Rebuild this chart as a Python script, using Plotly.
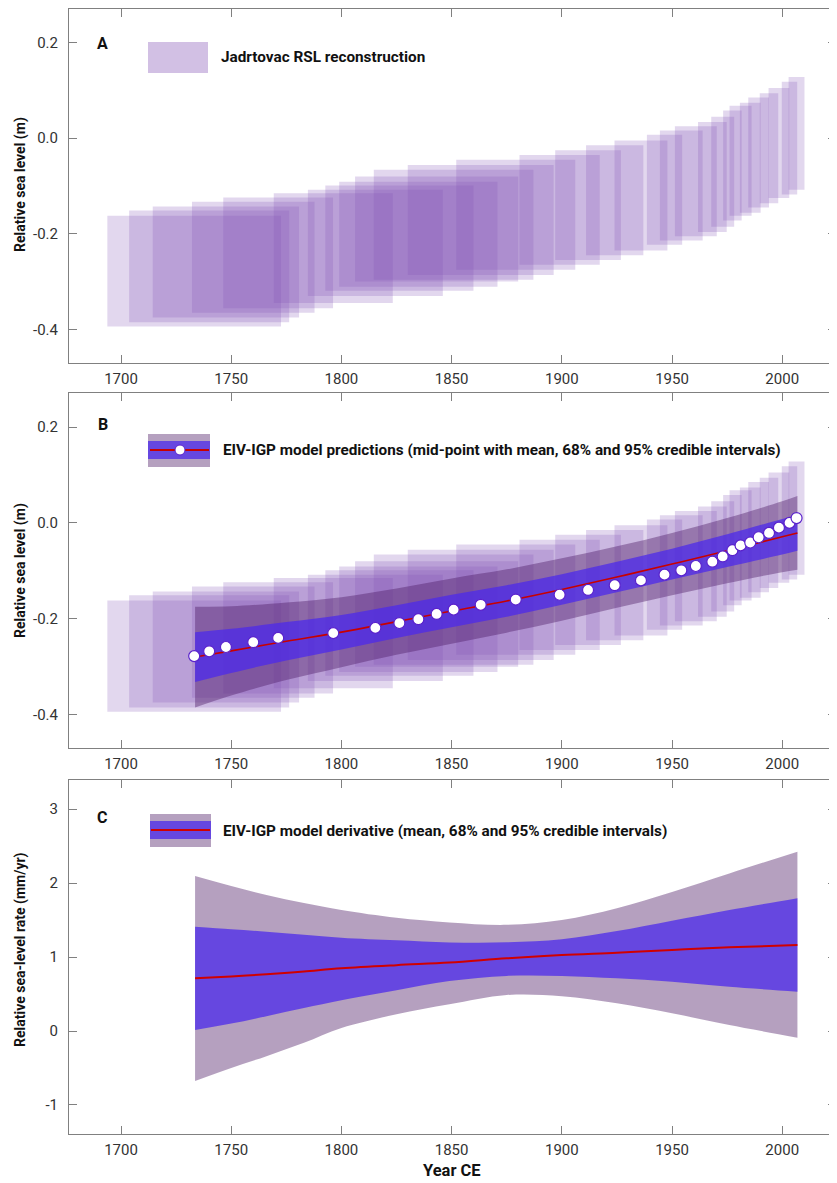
import plotly.graph_objects as go

# ---------------- data ----------------
# RSL reconstruction (mid-points, age and RSL half-uncertainties)
ages = [1733.2, 1740.0, 1747.6, 1760.0, 1771.3, 1796.3, 1815.4, 1826.3, 1834.9, 1843.2,
        1850.9, 1863.2, 1879.1, 1899.0, 1911.9, 1924.0, 1935.9, 1946.6, 1954.2, 1960.8,
        1968.3, 1973.0, 1977.4, 1981.1, 1985.5, 1989.3, 1994.0, 1998.5, 2003.3, 2006.5]
age_err = [39.4, 36.3, 33.2, 27.8, 24.9, 27.0, 30.6, 33.6, 35.9, 37.0,
           36.2, 33.1, 27.0, 18.2, 14.9, 13.0, 12.0, 8.0, 9.7, 9.5,
           6.5, 5.2, 4.2, 5.0, 4.7, 4.7, 4.2, 4.7, 3.5, 3.6]
rsl = [-0.278, -0.268, -0.259, -0.249, -0.240, -0.230, -0.219, -0.209, -0.201, -0.190,
       -0.181, -0.171, -0.160, -0.150, -0.140, -0.130, -0.120, -0.108, -0.099, -0.090,
       -0.081, -0.070, -0.057, -0.047, -0.041, -0.030, -0.021, -0.010, 0.000, 0.010]
rsl_err = [0.116, 0.117, 0.116, 0.116, 0.116, 0.115, 0.111, 0.110, 0.110, 0.110,
           0.115, 0.115, 0.115, 0.115, 0.115, 0.115, 0.115, 0.115, 0.115, 0.115,
           0.115, 0.115, 0.115, 0.115, 0.115, 0.115, 0.115, 0.115, 0.118, 0.118]

# EIV-IGP model predictions (panel B)
pred_years = [1733.6, 1750, 1775, 1800, 1825, 1850, 1875, 1900, 1925, 1950, 1975, 2000, 2006.9]
pred_mean = [-0.280, -0.267, -0.247, -0.228, -0.206, -0.184, -0.163, -0.139, -0.113, -0.086, -0.058, -0.029, -0.021]
pred_lo68 = [-0.332, -0.313, -0.287, -0.264, -0.240, -0.218, -0.196, -0.171, -0.145, -0.118, -0.092, -0.066, -0.058]
pred_hi68 = [-0.228, -0.221, -0.207, -0.192, -0.172, -0.150, -0.130, -0.107, -0.081, -0.054, -0.024, 0.008, 0.016]
pred_lo95 = [-0.385, -0.360, -0.328, -0.301, -0.275, -0.252, -0.229, -0.204, -0.177, -0.151, -0.126, -0.103, -0.098]
pred_hi95 = [-0.175, -0.174, -0.166, -0.155, -0.137, -0.116, -0.097, -0.074, -0.049, -0.021, 0.010, 0.045, 0.056]

# EIV-IGP model derivative (panel C)
rate_years = [1733.6, 1750, 1766, 1783, 1800, 1825, 1849, 1875, 1900, 1925, 1950, 1976, 2006.9]
rate_mean = [0.712, 0.738, 0.766, 0.805, 0.847, 0.890, 0.925, 0.982, 1.027, 1.058, 1.095, 1.131, 1.162]
rate_hi68 = [1.410, 1.375, 1.342, 1.300, 1.261, 1.225, 1.197, 1.198, 1.240, 1.350, 1.490, 1.635, 1.795]
rate_lo68 = [0.013, 0.100, 0.200, 0.310, 0.415, 0.550, 0.675, 0.745, 0.745, 0.712, 0.666, 0.599, 0.531]
rate_hi95 = [2.095, 1.960, 1.838, 1.730, 1.635, 1.530, 1.468, 1.435, 1.500, 1.660, 1.880, 2.130, 2.423]
rate_lo95 = [-0.676, -0.500, -0.340, -0.160, 0.040, 0.225, 0.360, 0.486, 0.470, 0.374, 0.239, 0.081, -0.090]

x_ticks = [1700, 1750, 1800, 1850, 1900, 1950, 2000]
rsl_ticks = [-0.4, -0.2, 0.0, 0.2]
rsl_ticktext = ["-0.4", "-0.2", "0.0", "0.2"]
rate_ticks = [-1, 0, 1, 2, 3]
rate_ticktext = ["-1", "0", "1", "2", "3"]

# ---------------- style ----------------
FONT = "Roboto, Liberation Sans Narrow, sans-serif"
BOX_FILL = "rgba(130,80,180,0.23)"
BAND95 = "rgba(78,28,103,0.42)"
BAND68 = "rgba(76,41,235,0.75)"
RED = "#c80000"
AXC = "#808080"

OFF = 8                      # page body margin offset (px)
W, H = 837 - OFF, 1183 - OFF  # figure size
ML, MR, MT, MB = 69 - OFF, 1, 1, H - (1134 - OFF)
PW, PH = W - ML - MR, H - MT - MB


def px(xp):
    # reference page pixel -> paper x
    return (xp - OFF - ML) / PW


def py(yp):
    # reference page pixel -> paper y
    return (H - MB - (yp - OFF)) / PH


fig = go.Figure()

# ---- panel A & B boxes ----
shapes = []
for xr, yr in (("x", "y"), ("x2", "y2")):
    for a, ae, r, re in zip(ages, age_err, rsl, rsl_err):
        shapes.append(dict(type="rect", xref=xr, yref=yr, x0=a - ae, x1=a + ae,
                           y0=r - re, y1=r + re, fillcolor=BOX_FILL,
                           line=dict(width=0), layer="below"))

fig.add_trace(go.Scatter(x=[], y=[], xaxis="x", yaxis="y", showlegend=False))


def band(xs, lo, hi, color, xa, ya):
    fig.add_trace(go.Scatter(x=xs, y=lo, mode="lines", line=dict(width=0, shape="spline"),
                             hoverinfo="skip", showlegend=False, xaxis=xa, yaxis=ya))
    fig.add_trace(go.Scatter(x=xs, y=hi, mode="lines", line=dict(width=0, shape="spline"),
                             fill="tonexty", fillcolor=color,
                             hoverinfo="skip", showlegend=False, xaxis=xa, yaxis=ya))


# ---- panel B model ----
band(pred_years, pred_lo95, pred_hi95, BAND95, "x2", "y2")
band(pred_years, pred_lo68, pred_hi68, BAND68, "x2", "y2")
fig.add_trace(go.Scatter(x=pred_years, y=pred_mean, mode="lines",
                         line=dict(color=RED, width=1.6, shape="spline"),
                         showlegend=False, xaxis="x2", yaxis="y2"))
fig.add_trace(go.Scatter(x=ages, y=rsl, mode="markers",
                         marker=dict(size=11, color="white", line=dict(color="#5a22cc", width=1.2)),
                         showlegend=False, xaxis="x2", yaxis="y2"))

# ---- panel C derivative ----
band(rate_years, rate_lo95, rate_hi95, BAND95, "x3", "y3")
band(rate_years, rate_lo68, rate_hi68, BAND68, "x3", "y3")
fig.add_trace(go.Scatter(x=rate_years, y=rate_mean, mode="lines",
                         line=dict(color="#d00000", width=2, shape="spline"),
                         showlegend=False, xaxis="x3", yaxis="y3"))


# ---- legend swatches (decoration, paper coords) ----
def rect(x0, y0, x1, y1, color):
    shapes.append(dict(type="rect", xref="paper", yref="paper", x0=px(x0), x1=px(x1),
                       y0=py(y1), y1=py(y0), fillcolor=color, line=dict(width=0), layer="above"))


rect(148, 42, 208, 73, "rgba(130,80,180,0.36)")
rect(148, 434, 210, 467, BAND95)
rect(148, 441, 210, 459, BAND68)
shapes.append(dict(type="line", xref="paper", yref="paper", x0=px(150), x1=px(209),
                   y0=py(450), y1=py(450), line=dict(color=RED, width=2), layer="above"))
shapes.append(dict(type="circle", xref="paper", yref="paper", x0=px(175), x1=px(185),
                   y0=py(455), y1=py(445), fillcolor="white",
                   line=dict(color="#5a22cc", width=1), layer="above"))
rect(150, 814, 211, 847, BAND95)
rect(150, 821, 211, 839, BAND68)
shapes.append(dict(type="line", xref="paper", yref="paper", x0=px(151), x1=px(210),
                   y0=py(830), y1=py(830), line=dict(color="#d00000", width=2), layer="above"))

# ---- annotations ----
ann = []


def text(xp, yp, s, size, bold=True, xanchor="left", angle=0, color="#111"):
    ann.append(dict(xref="paper", yref="paper", x=px(xp), y=py(yp), text=("<b>%s</b>" % s) if bold else s,
                    showarrow=False, xanchor=xanchor, yanchor="middle", textangle=angle,
                    font=dict(family=FONT, size=size, color=color)))


text(102, 43, "A", 16, xanchor="center")
text(103, 424, "B", 16, xanchor="center")
text(102, 818, "C", 16, xanchor="center")
text(219, 57, "Jadrtovac RSL reconstruction", 15.3)
text(221, 450, "EIV-IGP model predictions (mid-point with mean, 68% and 95% credible intervals)", 15.3)
text(221, 831, "EIV-IGP model derivative (mean, 68% and 95% credible intervals)", 15.3)
text(20, 185, "Relative sea level (m)", 14, xanchor="center", angle=-90)
text(20, 571, "Relative sea level (m)", 14, xanchor="center", angle=-90)
text(20, 950, "Relative sea-level rate (mm/yr)", 14, xanchor="center", angle=-90)
text(452, 1170, "Year CE", 16.5, xanchor="center")


# ---- axes ----
def xax(anchor):
    return dict(range=[1676.4, 2024.4], domain=[0, 1], anchor=anchor, tickvals=x_ticks,
                ticks="inside", ticklen=8, tickcolor=AXC, showline=True, linecolor=AXC,
                linewidth=1, mirror="ticks", showgrid=False, zeroline=False,
                tickfont=dict(family=FONT, size=15, color="#333"), ticklabelstandoff=2)


def yax(anchor, rng, dom, tv, tt):
    return dict(range=rng, domain=dom, anchor=anchor, tickvals=tv, ticktext=tt,
                ticks="inside", ticklen=8, tickcolor=AXC, showline=True, linecolor=AXC,
                linewidth=1, mirror="ticks", showgrid=False, zeroline=False,
                tickfont=dict(family=FONT, size=15, color="#333"), ticklabelstandoff=7)


fig.update_layout(
    width=W, height=H, margin=dict(l=ML, r=MR, t=MT, b=MB),
    paper_bgcolor="white", plot_bgcolor="white", showlegend=False,
    xaxis=xax("y"), xaxis2=xax("y2"), xaxis3=xax("y3"),
    yaxis=yax("x", [-0.4703, 0.2703], [py(363), py(9)], rsl_ticks, rsl_ticktext),
    yaxis2=yax("x2", [-0.4703, 0.2703], [py(748.3), py(393.3)], rsl_ticks, rsl_ticktext),
    yaxis3=yax("x3", [-1.392, 3.399], [0, py(779.5)], rate_ticks, rate_ticktext),
    shapes=shapes, annotations=ann,
)

fig.write_html("out.html")
